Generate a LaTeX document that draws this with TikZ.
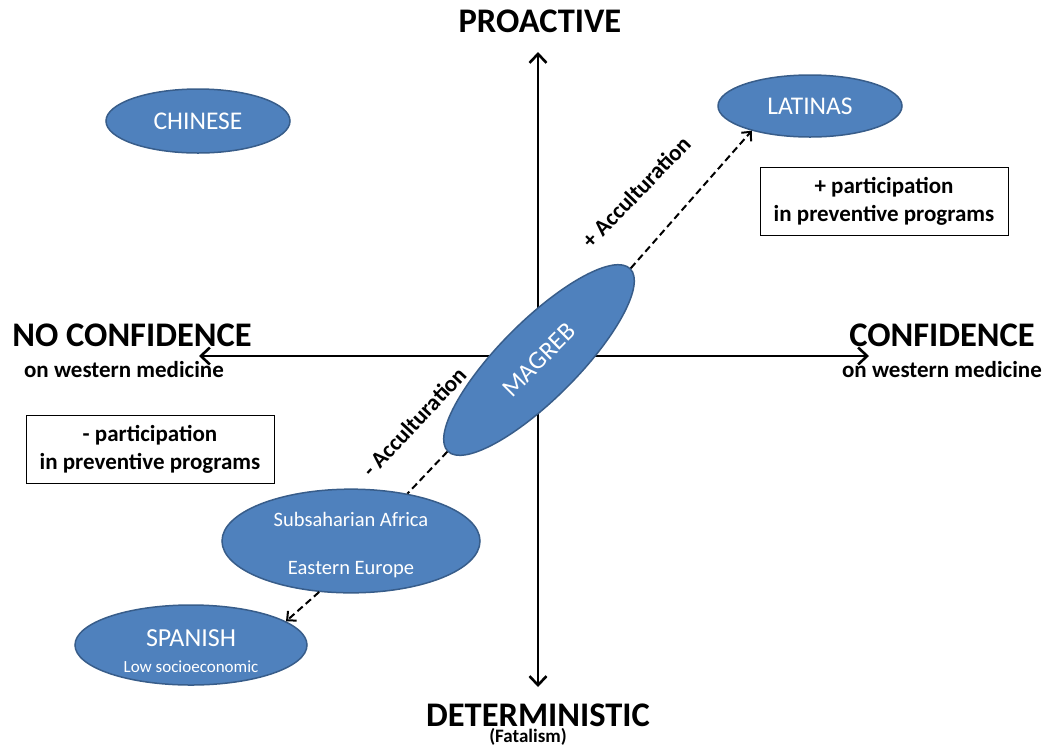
\documentclass[tikz,border=0pt]{standalone}
\usepackage{fontspec}
\setmainfont{Carlito}
\usetikzlibrary{shapes.geometric,arrows.meta}
\definecolor{ellfill}{HTML}{4F81BD}
\definecolor{elldraw}{HTML}{385D8A}
\begin{document}
\begin{tikzpicture}[x=1pt,y=-1pt,
  grp/.style={ellipse, fill=ellfill, draw=elldraw, line width=1.5pt, text=white, inner sep=0pt, align=center},
  axisline/.style={line width=2.6pt, {Straight Barb[length=9pt,width=17pt,line width=2.6pt]}-{Straight Barb[length=9pt,width=17pt,line width=2.6pt]}},
  axlabel/.style={font=\bfseries\fontsize{34.5}{36}\selectfont, inner sep=0pt},
  sublabel/.style={font=\bfseries\fontsize{23}{26}\selectfont, inner sep=0pt},
  infobox/.style={draw, line width=1pt, font=\bfseries\fontsize{23}{28}\selectfont, align=center, minimum width=248pt, minimum height=68pt, inner sep=0pt},
  accarrow/.style={line width=2pt, dash pattern=on 7pt off 4pt, -{Straight Barb[length=7pt,width=13pt,line width=2pt]}},
  accline/.style={line width=2pt, dash pattern=on 7pt off 4pt},
]
\useasboundingbox (0,0) rectangle (1046,748);
\coordinate (top) at (538,52);
\coordinate (bottom) at (538,687);
\coordinate (left) at (199,356);
\coordinate (right) at (869,356);
\draw[axisline] (bottom) -- (top);
\draw[axisline] (left) -- (right);

\node[axlabel] (proactive) at (540,21) {PROACTIVE};
\node[axlabel] (determ) at (538,715) {DETERMINISTIC};
\node[sublabel, font=\bfseries\fontsize{19}{20}\selectfont] (fatal) at (528,737) {(Fatalism)};
\node[axlabel] (noconf) at (132,335) {NO CONFIDENCE};
\node[sublabel] (noconfsub) at (124,370) {on western medicine};
\node[axlabel] (conf) at (942,335) {CONFIDENCE};
\node[sublabel] (confsub) at (942,370) {on western medicine};

\node[infobox] (plusbox) at (884,201) {+ participation\\in preventive programs};
\node[infobox] (minusbox) at (150,449) {- participation\\in preventive programs};

\node[grp, minimum width=184pt, minimum height=64pt, font=\fontsize{25.5}{28}\selectfont] (chinese) at (198,121) {CHINESE};
\node[grp, minimum width=184pt, minimum height=62pt, font=\fontsize{25.5}{28}\selectfont] (latinas) at (810,106) {LATINAS};
\node[grp, minimum width=258pt, minimum height=78pt, rotate=45, font=\fontsize{25.5}{28}\selectfont] (magreb) at (539,360) {MAGREB};
\node[grp, minimum width=258pt, minimum height=100pt, font=\fontsize{20.5}{48}\selectfont] (subs) at (351,541) {\rule{0pt}{22pt}Subsaharian Africa\\Eastern Europe};
\node[grp, minimum width=232pt, minimum height=80pt, font=\fontsize{17}{26}\selectfont] (spanish) at (191,645) {{\fontsize{26}{28}\selectfont\rule{0pt}{30pt}SPANISH}\\Low socioeconomic};

\draw[accarrow] (magreb.east) -- (latinas.203);
\draw[accline] (magreb.west) -- (subs.40);
\draw[accarrow] (subs.238) -- (spanish.14);

\node[sublabel, rotate=46] (accplus) at (636,192) {+ Acculturation};
\node[sublabel, rotate=47] (accminus) at (414,422) {- Acculturation};
\end{tikzpicture}
\end{document}
